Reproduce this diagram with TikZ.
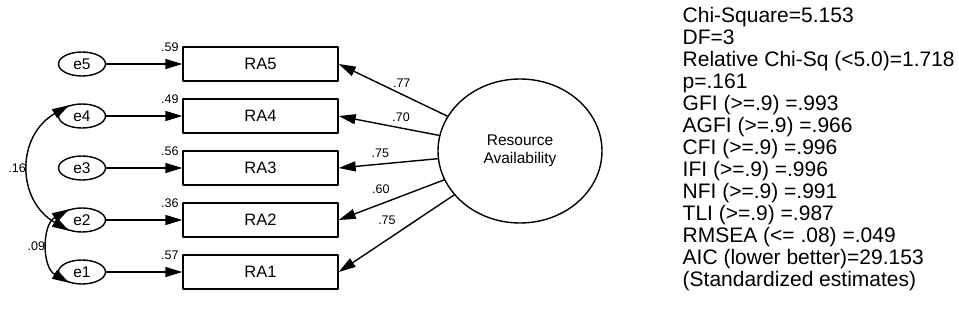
\documentclass[tikz,border=0pt]{standalone}
\usepackage{fontspec}
\setmainfont{Liberation Sans}
\usetikzlibrary{arrows.meta,shapes.geometric}
\tikzset{
  errv/.style={draw,ellipse,minimum width=47pt,minimum height=24pt,inner sep=0pt,font=\fontsize{15.5}{17}\selectfont},
  obsv/.style={draw,minimum width=155pt,minimum height=34pt,inner sep=0pt,font=\fontsize{16.5}{18}\selectfont},
  latv/.style={draw,ellipse,minimum width=164pt,minimum height=144pt,inner sep=0pt,align=center,font=\fontsize{15.5}{18}\selectfont},
  est/.style={font=\fontsize{12.5}{14}\selectfont,inner sep=1pt},
  stat/.style={font=\fontsize{21}{22}\selectfont,inner sep=0pt,anchor=base west}
}
\begin{document}
\begin{tikzpicture}[x=1pt,y=-1pt,>={Triangle[length=17pt,width=10pt]},line width=1.4pt,line join=round]
  \useasboundingbox (0,0) rectangle (959,327);
  \node[latv] (ra) at (520,151) {Resource\\Availability};
  % error terms and indicators
  \foreach \i/\y/\r in {1/272/.57,2/220/.36,3/168/.56,4/116/.49,5/64/.59}{
    \node[errv] (e\i) at (82,\y) {e\i};
    \node[obsv] (ra\i) at (260.5,\y) {RA\i};
    \node[est,anchor=east] (r\i) at ([xshift=-2pt,yshift=-1pt]ra\i.north west) {\r};
    \draw[->] (e\i) -- (ra\i);
  }
  % loadings
  \draw[->] (ra) -- (ra5.east) node[est,pos=0.42,above=5pt] (l5) {.77};
  \draw[->] (ra) -- (ra4.east) node[est,pos=0.38,above=5pt] (l4) {.70};
  \draw[->] (ra) -- (ra3.east) node[est,pos=0.58,above=5pt] (l3) {.75};
  \draw[->] (ra) -- (ra2.east) node[est,pos=0.60,above=9pt] (l2) {.60};
  \draw[->] (ra) -- (ra1.east) node[est,pos=0.44,anchor=south east,xshift=-6pt,yshift=3pt] (l1) {.75};
  % covariances
  \draw[<->] (e4.140) to[bend right=60,looseness=1.25] node[est,left=2pt] (c42) {.16} (e2.220);
  \draw[<->] (e2.140) to[bend right=60,looseness=1.1] node[est,left=2pt] (c21) {.09} (e1.220);
  % fit indices
  \foreach \txt [count=\k from 0] in {Chi-Square=5.153,DF=3,Relative Chi-Sq (<5.0)=1.718,p=.161,
      GFI (>=.9) =.993,AGFI (>=.9) =.966,CFI (>=.9) =.996,IFI (>=.9) =.996,NFI (>=.9) =.991,
      TLI (>=.9) =.987,RMSEA (<= .08) =.049,AIC (lower better)=29.153,{(Standardized estimates)}}
    \node[stat] (fit\k) at (682,{22.7+21.95*\k}) {\txt};
\end{tikzpicture}
\end{document}
